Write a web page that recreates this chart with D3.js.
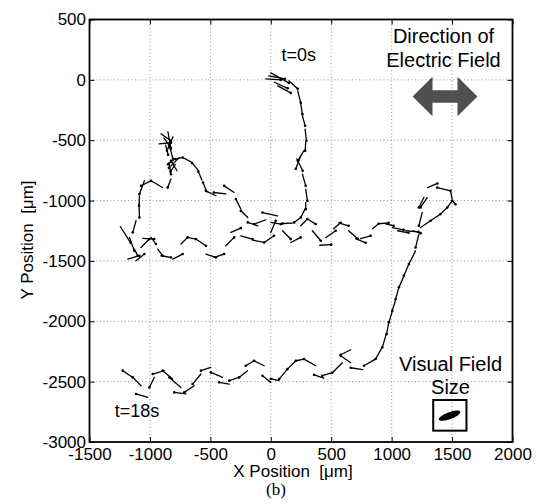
<!DOCTYPE html>
<html>
<head>
<meta charset="utf-8">
<script src="https://cdn.jsdelivr.net/npm/d3@7"></script>
<style>
  body { margin: 0; background: #fff; }
  svg { display: block; }
  .tick text { font-family: "Liberation Sans", Arial, sans-serif; font-size: 17px; fill: #000; }
</style>
</head>
<body>
<div class="vis-track"></div>
<script>
// axis ticks
const xTicks = [-1500, -1000, -500, 0, 500, 1000, 1500, 2000];
const yTicks = [500, 0, -500, -1000, -1500, -2000, -2500, -3000];

// tracked body segments, [tailX, tailY, headX, headY] in um
const startCluster = [
    [-41, 8, 83, 0], [0, 58, 149, -25], [-17, 33, 116, 8], [30, -20, 140, -70],
    [58, -50, 165, -108], [149, -8, 223, -74], [223, -91, 248, -190]
];
const descent = [
    [248, -201, 262, -284], [262, -298, 284, -381], [284, -408, 295, -505],
    [289, -519, 284, -588], [273, -588, 223, -671], [215, -654, 264, -753],
    [248, -629, 207, -737], [262, -781, 289, -878], [289, -905, 303, -1002],
    [289, -1016, 289, -1071], [283, -1071, 248, -1140], [248, -1140, 193, -1181],
    [179, -1187, 97, -1190]
];
const upperBand = [
    [55, -1126, -69, -1099], [-41, -1159, -138, -1195], [-107, -1209, -190, -1181],
    [-190, -1140, -248, -1085], [-248, -1070, -289, -988], [-303, -933, -386, -878],
    [-372, -944, -471, -933], [-454, -960, -537, -919], [-530, -930, -560, -850],
    [-570, -830, -600, -760], [-600, -750, -650, -690], [-660, -680, -729, -643],
    [-740, -645, -790, -656]
];
const starCluster = [
    [-760, -646, -843, -729], [-776, -753, -826, -671], [-790, -700, -830, -760],
    [-800, -660, -850, -700], [-909, -447, -826, -505], [-925, -530, -826, -521],
    [-851, -430, -826, -571], [-809, -472, -859, -588], [-843, -530, -809, -654],
    [-884, -480, -830, -560], [-870, -540, -850, -620]
];
const leftLoop = [
    [-843, -685, -826, -781], [-826, -822, -853, -892], [-895, -892, -991, -836],
    [-991, -836, -1074, -878], [-1046, -836, -1087, -946], [-1087, -960, -1090, -1043],
    [-1090, -1030, -1087, -1140], [-1115, -1167, -1142, -1264], [-1245, -1215, -1160, -1350],
    [-1170, -1305, -1129, -1416], [-1129, -1402, -1101, -1457], [-1184, -1485, -1088, -1457],
    [-1115, -1499, -1046, -1443]
];
const lowerBand = [
    [-1074, -1389, -1005, -1319], [-1060, -1314, -964, -1319], [-991, -1305, -950, -1360],
    [-936, -1402, -895, -1457], [-909, -1457, -826, -1471], [-812, -1485, -729, -1443],
    [-743, -1360, -688, -1305], [-688, -1305, -620, -1319], [-620, -1319, -537, -1374],
    [-537, -1443, -454, -1471], [-468, -1471, -386, -1443], [-372, -1374, -303, -1305],
    [-330, -1264, -248, -1228], [-248, -1292, -151, -1319], [-151, -1327, -55, -1347],
    [-55, -1347, 27, -1292], [0, -1264, 41, -1167], [0, -1181, 83, -1195],
    [97, -1250, 165, -1319], [165, -1347, 248, -1305], [248, -1209, 303, -1153],
    [303, -1153, 372, -1195], [344, -1250, 413, -1333], [405, -1370, 500, -1365],
    [454, -1308, 537, -1250], [520, -1234, 578, -1184], [562, -1184, 644, -1209],
    [644, -1250, 719, -1316], [702, -1316, 785, -1350], [743, -1316, 826, -1292],
    [843, -1234, 892, -1192], [892, -1192, 975, -1184], [950, -1192, 1016, -1209],
    [1008, -1225, 1099, -1242], [1050, -1250, 1140, -1267], [1115, -1250, 1222, -1259]
];
const rightLoop = [
    [1239, -1223, 1322, -1167], [1322, -1167, 1404, -1112], [1404, -1112, 1460, -1057],
    [1460, -1057, 1501, -1002], [1501, -1002, 1528, -1030], [1501, -988, 1487, -919],
    [1487, -919, 1377, -892], [1297, -892, 1379, -858], [1294, -975, 1239, -1057],
    [1267, -975, 1225, -1057], [1253, -1099, 1225, -1209], [1180, -1250, 1240, -1270]
];
const riseTrack = [
    [1225, -1278, 1198, -1389], [1198, -1416, 1143, -1526], [1140, -1532, 1101, -1623],
    [1099, -1631, 1060, -1719], [1057, -1730, 1033, -1815], [1033, -1822, 1005, -1913],
    [1004, -1921, 977, -2009], [975, -2016, 958, -2106], [954, -2111, 923, -2216],
    [917, -2223, 867, -2313], [859, -2318, 771, -2368]
];
const bottomZigzag = [
    [760, -2401, 661, -2385], [661, -2236, 578, -2277], [661, -2343, 578, -2285],
    [592, -2343, 509, -2426], [509, -2426, 426, -2451], [440, -2470, 358, -2443],
    [372, -2368, 275, -2313], [275, -2313, 207, -2327], [207, -2327, 138, -2396],
    [138, -2396, 69, -2479], [66, -2492, 0, -2476], [0, -2506, -69, -2451],
    [-55, -2368, -138, -2327], [-138, -2327, -207, -2368], [-193, -2409, -262, -2465],
    [-262, -2465, -344, -2492], [-344, -2520, -427, -2506], [-399, -2465, -496, -2423],
    [-496, -2382, -578, -2409], [-578, -2437, -647, -2520], [-634, -2534, -716, -2589],
    [-702, -2602, -799, -2589], [-743, -2548, -840, -2465], [-812, -2478, -895, -2409],
    [-881, -2409, -977, -2437], [-964, -2465, -1005, -2548], [-1018, -2631, -1115, -2602],
    [-1074, -2534, -1142, -2465], [-1142, -2465, -1225, -2409]
];

// annotations, positions in um
const timeLabels = [
    { text: 't=0s', x: 231, y: 157 },
    { text: 't=18s', x: -1107, y: -2790 }
];
const fieldLabels = [
    { text: 'Direction of', x: 1429, y: 306 },
    { text: 'Electric Field', x: 1429, y: 108 }
];
const sizeLabels = [
    { text: 'Visual Field', x: 1487, y: -2409 },
    { text: 'Size', x: 1487, y: -2600 }
];
const fieldArrow = { x0: 1173, x1: 1710, y: -138, head: 165, headHalf: 163, shaftHalf: 52 };
const sizeBox = { x0: 1344, x1: 1619, y0: -2652, y1: -2906 };
const sizeBlob = { x: 1479, y: -2782, rx: 95, ry: 29, angle: -20 };

const W = 553, H = 504;
const margin = { top: 19.5, right: 40.5, bottom: 62, left: 89.5 };

const svg = d3.select('.vis-track')
    .append('svg')
    .attr('width', W)
    .attr('height', H);

const x = d3.scaleLinear().domain([-1500, 2000]).range([margin.left, W - margin.right]);
const y = d3.scaleLinear().domain([-3000, 500]).range([H - margin.bottom, margin.top]);

// plain integer labels with ascii minus, like the original
const plain = d => String(d);

// dotted grid
const grid = svg.append('g').attr('stroke', '#777').attr('stroke-width', 0.8).attr('stroke-dasharray', '1,2.5');
grid.selectAll('.gx')
    .data(xTicks.slice(1, -1))
    .enter().append('line')
    .attr('x1', d => x(d)).attr('x2', d => x(d))
    .attr('y1', y.range()[0]).attr('y2', y.range()[1]);
grid.selectAll('.gy')
    .data(yTicks.slice(1, -1))
    .enter().append('line')
    .attr('y1', d => y(d)).attr('y2', d => y(d))
    .attr('x1', x.range()[0]).attr('x2', x.range()[1]);

// axes with inward ticks
svg.append('g')
    .attr('transform', 'translate(0,' + y(-3000) + ')')
    .call(d3.axisBottom(x).tickValues(xTicks).tickFormat(plain).tickSizeInner(-5).tickSizeOuter(0).tickPadding(6));
svg.append('g')
    .attr('transform', 'translate(' + x(-1500) + ',0)')
    .call(d3.axisLeft(y).tickValues(yTicks).tickFormat(plain).tickSizeInner(-5).tickSizeOuter(0).tickPadding(3.5));
svg.append('g')
    .attr('transform', 'translate(0,' + y(500) + ')')
    .call(d3.axisTop(x).tickValues(xTicks).tickSizeInner(-5).tickSizeOuter(0).tickFormat(''));
svg.append('g')
    .attr('transform', 'translate(' + x(2000) + ',0)')
    .call(d3.axisRight(y).tickValues(yTicks).tickSizeInner(-5).tickSizeOuter(0).tickFormat(''));
svg.selectAll('.domain').remove();
svg.selectAll('.tick line').attr('stroke', '#000').attr('stroke-width', 1);

// frame
svg.append('rect')
    .attr('x', x(-1500)).attr('y', y(500))
    .attr('width', x(2000) - x(-1500))
    .attr('height', y(-3000) - y(500))
    .attr('fill', 'none')
    .attr('stroke', '#000')
    .attr('stroke-width', 1.8);

// trajectory segments
const segments = [].concat(startCluster, descent, upperBand, starCluster, leftLoop,
    lowerBand, rightLoop, riseTrack, bottomZigzag);

const track = svg.append('g');
track.selectAll('line')
    .data(segments)
    .enter().append('line')
    .attr('x1', d => x(d[0])).attr('y1', d => y(d[1]))
    .attr('x2', d => x(d[2])).attr('y2', d => y(d[3]))
    .attr('stroke', '#000')
    .attr('stroke-width', 1.3)
    .attr('stroke-linecap', 'round');
track.selectAll('circle')
    .data(segments)
    .enter().append('circle')
    .attr('cx', d => x(d[2])).attr('cy', d => y(d[3]))
    .attr('r', 1.3)
    .attr('fill', '#000');

// text annotations
const addText = (list, size) => {
    svg.append('g').selectAll('text')
        .data(list)
        .enter().append('text')
        .attr('x', d => x(d.x))
        .attr('y', d => y(d.y))
        .attr('text-anchor', 'middle')
        .attr('font-family', '"Liberation Sans", Arial, sans-serif')
        .attr('font-size', size)
        .text(d => d.text);
};
addText(timeLabels, '18px');
addText(fieldLabels, '20px');
addText(sizeLabels, '20px');

// double-headed field arrow
const a = fieldArrow;
const arrowPts = [
    [a.x0, a.y],
    [a.x0 + a.head, a.y + a.headHalf],
    [a.x0 + a.head, a.y + a.shaftHalf],
    [a.x1 - a.head, a.y + a.shaftHalf],
    [a.x1 - a.head, a.y + a.headHalf],
    [a.x1, a.y],
    [a.x1 - a.head, a.y - a.headHalf],
    [a.x1 - a.head, a.y - a.shaftHalf],
    [a.x0 + a.head, a.y - a.shaftHalf],
    [a.x0 + a.head, a.y - a.headHalf]
];
svg.append('path')
    .attr('d', d3.line().x(d => x(d[0])).y(d => y(d[1]))(arrowPts) + 'Z')
    .attr('fill', '#505050');

// visual field size box
svg.append('rect')
    .attr('x', x(sizeBox.x0)).attr('y', y(sizeBox.y0))
    .attr('width', x(sizeBox.x1) - x(sizeBox.x0))
    .attr('height', y(sizeBox.y1) - y(sizeBox.y0))
    .attr('fill', 'none')
    .attr('stroke', '#000')
    .attr('stroke-width', 2);
svg.append('ellipse')
    .attr('cx', x(sizeBlob.x)).attr('cy', y(sizeBlob.y))
    .attr('rx', x(sizeBlob.rx) - x(0)).attr('ry', y(0) - y(sizeBlob.ry))
    .attr('transform', 'rotate(' + sizeBlob.angle + ',' + x(sizeBlob.x) + ',' + y(sizeBlob.y) + ')')
    .attr('fill', '#000');

// axis labels
svg.append('text')
    .attr('x', 293)
    .attr('y', 477)
    .attr('text-anchor', 'middle')
    .attr('font-family', '"Liberation Sans", Arial, sans-serif')
    .attr('font-size', '17px')
    .style('white-space', 'pre')
    .text('X Position  [\u03bcm]');
svg.append('text')
    .attr('transform', 'translate(33,240) rotate(-90)')
    .attr('text-anchor', 'middle')
    .attr('font-family', '"Liberation Sans", Arial, sans-serif')
    .attr('font-size', '17px')
    .style('white-space', 'pre')
    .text('Y Position  [\u03bcm]');
svg.append('text')
    .attr('x', 276)
    .attr('y', 495)
    .attr('text-anchor', 'middle')
    .attr('font-family', '"Liberation Serif", "Times New Roman", serif')
    .attr('font-size', '17px')
    .text('(b)');
</script>
</body>
</html>
